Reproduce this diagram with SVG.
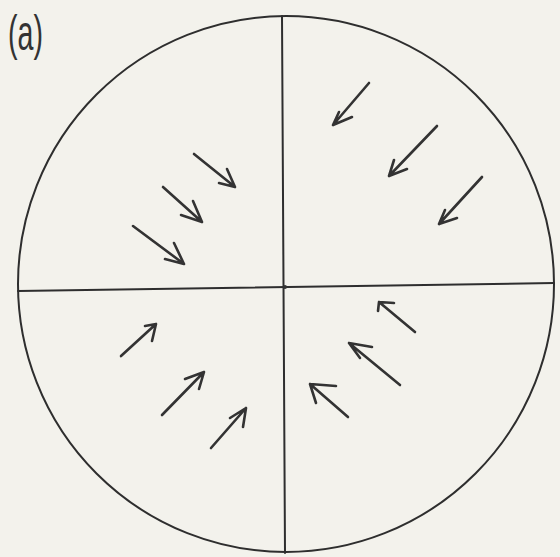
<svg xmlns="http://www.w3.org/2000/svg" width="560" height="557" viewBox="0 0 560 557">
<style>
.ln{fill:none;stroke:#2e2e2e;stroke-width:2;stroke-linecap:round;stroke-linejoin:round}
.ar{fill:none;stroke:#333;stroke-width:2.6;stroke-linecap:round;stroke-linejoin:round}
.lbl{font-family:"Liberation Sans",sans-serif;font-size:50px;fill:#333}
</style>
<rect width="560" height="557" fill="#f3f2ec"/>
<text class="lbl" x="8" y="50" textLength="35" lengthAdjust="spacingAndGlyphs">(a)</text>
<g id="frame">
<circle class="ln" cx="286" cy="284" r="268"/>
<path class="ln" d="M282 16 L285 553"/>
<path class="ln" d="M18 291 L554 283"/>
<circle cx="285" cy="287" r="2" fill="#333"/>
</g>
<g id="arrows">
<path class="ar" d="M194 154 L235 187 M227 169 L235 187 L219 183"/>
<path class="ar" d="M163 187 L202 222 M193 201 L202 222 L181 215"/>
<path class="ar" d="M133 226 L184 264 M174 243 L184 264 L165 259"/>
<path class="ar" d="M369 83 L333 125 M339 112 L333 125 L352 117"/>
<path class="ar" d="M437 126 L389 176 M394 160 L389 176 L407 169"/>
<path class="ar" d="M482 177 L439 224 M445 210 L439 224 L457 218"/>
<path class="ar" d="M121 356 L156 324 M145 326 L156 324 L152 341"/>
<path class="ar" d="M162 415 L204 372 M185 379 L204 372 L199 389"/>
<path class="ar" d="M211 448 L246 408 M230 418 L246 408 L243 427"/>
<path class="ar" d="M415 332 L379 302 M394 303 L379 302 L378 311"/>
<path class="ar" d="M400 385 L349 343 M372 347 L349 343 L360 358"/>
<path class="ar" d="M348 417 L310 384 M336 386 L310 384 L316 403"/>
</g>
</svg>
